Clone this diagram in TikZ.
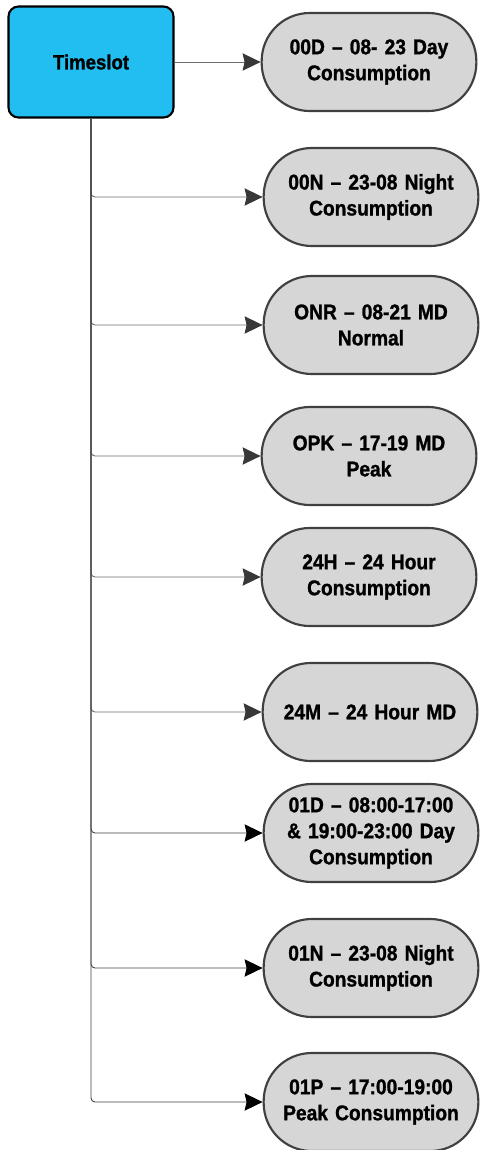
\documentclass[tikz,border=0pt]{standalone}
\usepackage{fontspec}
\setmainfont{Liberation Sans}[FakeStretch=0.9,BoldFeatures={FakeBold=1.2}]
\usetikzlibrary{arrows.meta,calc}
\definecolor{tscyan}{HTML}{22BDF1}
\definecolor{pillfill}{HTML}{D6D6D6}
\definecolor{pilledge}{HTML}{404040}
\definecolor{linegray}{HTML}{6E6E6E}
\definecolor{tipgray}{HTML}{383838}
\begin{document}
\begin{tikzpicture}[x=0.75pt,y=-0.75pt,
  tsbox/.style={draw=black,line width=1.6pt,fill=tscyan,rounded corners=7.5pt,
    minimum width=123.75pt,minimum height=83.25pt,inner sep=0pt,
    font=\fontsize{15.5pt}{19pt}\selectfont\bfseries},
  pill/.style={draw=pilledge,line width=1.6pt,fill=pillfill,rounded corners=36pt,
    minimum width=161pt,minimum height=73.5pt,inner sep=0pt,align=center,
    text width=150pt,font=\fontsize{16pt}{19.5pt}\selectfont\bfseries},
  conn/.style={draw=linegray,line width=0.7pt,
    -{Stealth[length=13.5pt,width=13pt,inset=1.5pt,color=tipgray]}},
  darkconn/.style={draw=linegray!60!black,line width=0.7pt,rounded corners=3pt,
    -{Stealth[length=13.5pt,width=13pt,inset=1.5pt,color=black]}},
  branch/.style={conn,rounded corners=3pt}]
\useasboundingbox (0,0) rectangle (479,1150);
\node[tsbox] (ts) at (91,62) {Timeslot};
\node[pill] (n1) at (369,62) {00D – 08- 23 Day\\Consumption};
\node[pill] (n2) at (371,197) {00N – 23-08 Night\\Consumption};
\node[pill] (n3) at (371,325) {ONR – 08-21 MD\\Normal};
\node[pill] (n4) at (369,456) {OPK – 17-19 MD\\Peak};
\node[pill] (n5) at (369,577) {24H – 24 Hour\\Consumption};
\node[pill] (n6) at (370,712) {24M – 24 Hour MD};
\node[pill] (n7) at (371,833) {01D – 08:00-17:00\\\& 19:00-23:00 Day\\Consumption};
\node[pill] (n8) at (371,968) {01N – 23-08 Night\\Consumption};
\node[pill] (n9) at (371,1102) {01P – 17:00-19:00\\Peak Consumption};
\draw[conn] (ts.east) -- (n1.west);
\foreach \n in {n2,n3,n4,n5,n6}{
  \draw[branch] (ts.south) |- (\n.west);
}
\foreach \n in {n7,n8,n9}{
  \draw[darkconn] (ts.south) |- (\n.west);
}
\end{tikzpicture}
\end{document}
